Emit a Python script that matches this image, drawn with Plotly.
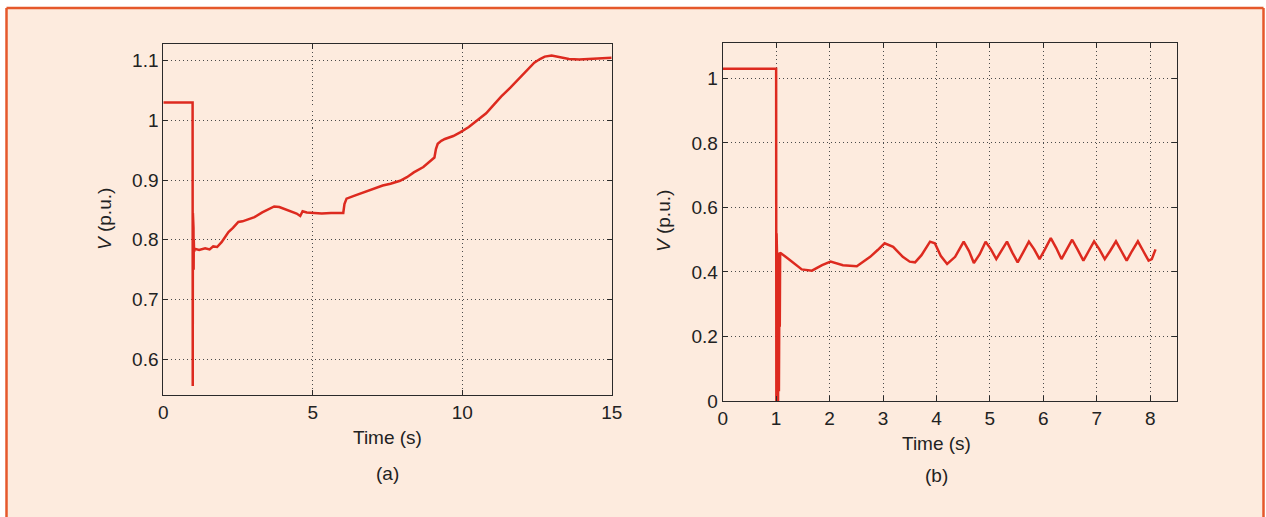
import plotly.graph_objects as go

# ---------------- data ----------------
t_a = [0, 0.98, 0.985, 0.99, 0.995, 1.0, 1.005, 1.01, 1.015, 1.02, 1.03, 1.05, 1.2, 1.4, 1.55,
       1.67, 1.8, 1.95, 2.18, 2.33, 2.51, 2.65, 2.85, 3.05, 3.31, 3.5, 3.71, 3.88, 4.1, 4.3,
       4.46, 4.58, 4.62, 4.66, 4.8, 5.04, 5.3, 5.61, 5.85, 6.02, 6.06, 6.13, 6.4, 6.77, 7.05,
       7.34, 7.6, 7.92, 8.15, 8.38, 8.7, 8.96, 9.07, 9.12, 9.18, 9.3, 9.42, 9.7, 9.93, 10.22,
       10.57, 10.8, 11.03, 11.3, 11.61, 11.85, 12.07, 12.25, 12.41, 12.6, 12.76, 12.99, 13.22,
       13.57, 13.91, 14.37, 14.7, 15.0]
v_a = [1.03, 1.03, 0.555, 0.845, 0.64, 0.84, 0.70, 0.82, 0.75, 0.80, 0.78, 0.785, 0.783, 0.786, 0.784,
       0.789, 0.788, 0.796, 0.813, 0.82, 0.830, 0.831, 0.834, 0.838, 0.846, 0.851, 0.856, 0.855, 0.851, 0.847,
       0.844, 0.840, 0.846, 0.848, 0.846, 0.845, 0.844, 0.845, 0.845, 0.845, 0.860, 0.869, 0.874, 0.881, 0.886,
       0.891, 0.894, 0.899, 0.905, 0.913, 0.922, 0.933, 0.938, 0.952, 0.961, 0.966, 0.969, 0.974, 0.980, 0.989,
       1.002, 1.012, 1.025, 1.040, 1.055, 1.068, 1.080, 1.090, 1.097, 1.103, 1.107, 1.109, 1.107,
       1.103, 1.102, 1.103, 1.104, 1.105]

t_b = [0, 1.0, 1.004, 1.008, 1.012, 1.016, 1.02, 1.024, 1.028, 1.032, 1.036, 1.04, 1.044, 1.048,
       1.052, 1.056, 1.06, 1.064, 1.068, 1.075, 1.22,
       1.35, 1.48, 1.67, 1.86, 2.02, 2.25, 2.51, 2.76, 2.9, 3.03, 3.19, 3.37, 3.5, 3.6, 3.72,
       3.88, 3.97, 4.08, 4.2, 4.35, 4.51, 4.61, 4.7, 4.81, 4.92, 5.02, 5.12, 5.22, 5.32, 5.42,
       5.52, 5.62, 5.73, 5.83, 5.93, 6.03, 6.14, 6.24, 6.34, 6.44,
       6.54, 6.64, 6.75, 6.85, 6.95, 7.05, 7.15, 7.25, 7.36, 7.46, 7.56, 7.66, 7.77, 7.87,
       7.97, 8.03, 8.1]
v_b = [1.03, 1.03, 0.0, 0.52, 0.0, 0.46, 0.0, 0.45, 0.02, 0.46, 0.0, 0.45, 0.05, 0.46,
       0.03, 0.45, 0.10, 0.46, 0.23, 0.46, 0.442,
       0.425, 0.408, 0.404, 0.421, 0.432, 0.421, 0.418, 0.447, 0.468, 0.489, 0.478, 0.447, 0.432, 0.430, 0.452,
       0.494, 0.489, 0.45, 0.425, 0.447, 0.494, 0.465, 0.428, 0.455, 0.494, 0.47, 0.44, 0.465, 0.494, 0.46,
       0.43, 0.46, 0.494, 0.47, 0.44, 0.47, 0.505, 0.475, 0.44, 0.47,
       0.50, 0.47, 0.435, 0.465, 0.495, 0.47, 0.44, 0.465, 0.495, 0.465, 0.435, 0.465, 0.495, 0.465,
       0.435, 0.44, 0.47]

xticks_a = [0, 5, 10, 15]
yticks_a = [0.6, 0.7, 0.8, 0.9, 1.0, 1.1]
yticklabels_a = ["0.6", "0.7", "0.8", "0.9", "1", "1.1"]
xticks_b = [0, 1, 2, 3, 4, 5, 6, 7, 8]
yticks_b = [0, 0.2, 0.4, 0.6, 0.8, 1.0]
yticklabels_b = ["0", "0.2", "0.4", "0.6", "0.8", "1"]

x_title = "Time (s)"
y_title = "<i>V</i> (p.u.)"
panel_labels = ["(a)", "(b)"]

# ---------------- figure ----------------
W, H = 1266, 517
LINE = "#dd2a1f"
PLOTBG = "#c6e4f4"
PEACH = "#fdebde"
ORANGE = "#e5582b"
FONT = "Liberation Sans, Arial, sans-serif"
TXT = "#222222"
FS = 19

def px(x):
    return x / W

def py(y):
    return 1 - y / H

fig = go.Figure()
fig.add_trace(go.Scatter(x=t_a, y=v_a, mode="lines", line=dict(color=LINE, width=2.5),
                         xaxis="x", yaxis="y", showlegend=False))
fig.add_trace(go.Scatter(x=t_b, y=v_b, mode="lines", line=dict(color=LINE, width=2.5),
                         xaxis="x2", yaxis="y2", showlegend=False))

axis_common = dict(
    showline=True, linecolor="#2a2a2a", linewidth=1, mirror="ticks",
    ticks="inside", ticklen=5, tickcolor="#2a2a2a", tickwidth=1,
    showgrid=True, gridcolor="#4a4a4a", gridwidth=1, griddash="1px,3px",
    zeroline=False, tickfont=dict(family=FONT, size=FS, color=TXT),
    fixedrange=True,
)

L, R, T = px(6.5), px(1263.5), py(8)
border = dict(color=ORANGE, width=2.5)
shapes = [
    dict(type="rect", xref="paper", yref="paper", x0=L, x1=R, y0=0, y1=T,
         line=dict(width=0), fillcolor=PEACH, layer="below"),
    dict(type="line", xref="paper", yref="paper", x0=L, x1=R, y0=T, y1=T, line=border),
    dict(type="line", xref="paper", yref="paper", x0=L, x1=L, y0=0, y1=T, line=border),
    dict(type="line", xref="paper", yref="paper", x0=R, x1=R, y0=0, y1=T, line=border),
]

fig.update_layout(
    autosize=True,
    margin=dict(l=0, r=0, t=0, b=0, autoexpand=False),
    paper_bgcolor="white",
    plot_bgcolor=PLOTBG,
    xaxis=dict(domain=[px(163.3), px(611.7)], range=[0, 15], tickvals=xticks_a,
               anchor="y", **axis_common),
    yaxis=dict(domain=[py(395), py(43.5)], range=[0.54, 1.129], tickvals=yticks_a,
               ticktext=yticklabels_a, anchor="x", **axis_common),
    xaxis2=dict(domain=[px(722.7), px(1176.9)], range=[0, 8.5], tickvals=xticks_b,
                anchor="y2", **axis_common),
    yaxis2=dict(domain=[py(401), py(43.3)], range=[0, 1.109], tickvals=yticks_b,
                ticktext=yticklabels_b, anchor="x2", **axis_common),
    shapes=shapes,
)

ann = []
def add_text(text, x, y, angle=0):
    ann.append(dict(text=text, x=px(x), y=py(y), xref="paper", yref="paper",
                    xanchor="center", yanchor="middle", showarrow=False, textangle=angle,
                    font=dict(family=FONT, size=FS, color=TXT)))

add_text(x_title, 387.5, 437)
add_text(panel_labels[0], 387.5, 473)
add_text(x_title, 936, 443)
add_text(panel_labels[1], 936, 475)
add_text(y_title, 104, 219, -90)
add_text(y_title, 663, 221, -90)
fig.update_layout(annotations=ann)

fig.write_html(
    "out.html",
    config={"displayModeBar": False, "responsive": True},
    default_width="100vw",
    default_height="100vh",
    post_script=("document.body.style.margin='0';"
                 "document.body.style.overflow='hidden';"
                 "document.documentElement.style.overflow='hidden';"
                 "Plotly.Plots.resize(document.getElementById('{plot_id}'));"),
)
